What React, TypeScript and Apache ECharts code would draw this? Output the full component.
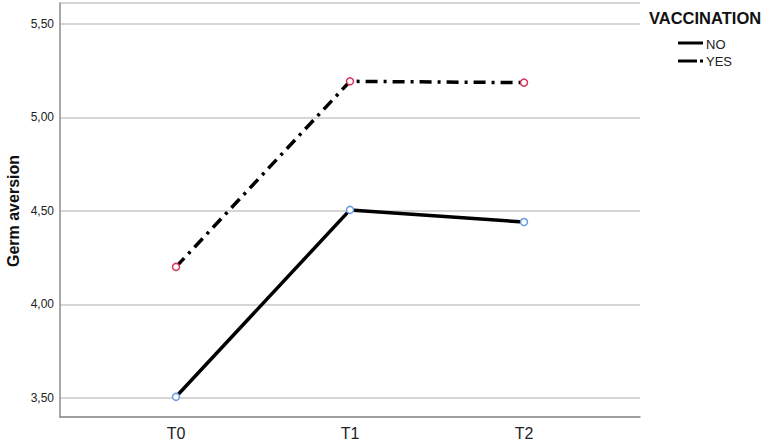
import React, { useEffect, useRef } from "react";
import * as echarts from "echarts";

const categories = ["T0", "T1", "T2"];
const yTicks = [3.5, 4.0, 4.5, 5.0, 5.5];
const seriesNames = ["NO", "YES"];
const noValues = [3.505, 4.505, 4.44];
const yesValues = [4.2, 5.193, 5.186];

export default function App() {
  const ref = useRef<HTMLDivElement>(null);
  useEffect(() => {
    if (!ref.current) return;
    const chart = echarts.init(ref.current, null, { renderer: "svg" });
    const font = "'Liberation Sans', Arial, sans-serif";
    chart.setOption({
      animation: false,
      backgroundColor: "#fff",
      grid: { left: 60, top: 3, width: 580, height: 414, containLabel: false },
      xAxis: {
        type: "value",
        min: -2 / 3,
        max: 8 / 3,
        axisLine: { show: true, onZero: false, lineStyle: { color: "#8c8c8c", width: 1.5 } },
        axisTick: { show: false },
        splitLine: { show: false },
        axisLabel: {
          customValues: [0, 1, 2],
          formatter: (v: number) => categories[Math.round(v)] ?? "",
          fontFamily: font,
          fontSize: 16,
          color: "#222",
          margin: 8,
        },
      },
      yAxis: {
        type: "value",
        min: 3.397,
        max: 5.612,
        axisLine: { show: true, onZero: false, lineStyle: { color: "#8c8c8c", width: 1.5 } },
        axisTick: { show: false },
        splitLine: { show: true, lineStyle: { color: "#c8c8c8", width: 1.5 } },
        axisLabel: {
          customValues: yTicks,
          formatter: (v: number) => v.toFixed(2).replace(".", ","),
          fontFamily: font,
          fontSize: 12,
          color: "#222",
          margin: 6,
        },
      },
      series: [
        {
          name: seriesNames[0],
          type: "line",
          data: noValues.map((v, i) => [i, v]),
          symbol: "circle",
          symbolSize: 7,
          lineStyle: { color: "#000", width: 3.5 },
          itemStyle: { color: "#fff", borderColor: "#6a9de0", borderWidth: 1.5 },
          z: 3,
        },
        {
          name: seriesNames[1],
          type: "line",
          data: yesValues.map((v, i) => [i, v]),
          symbol: "circle",
          symbolSize: 7,
          lineStyle: { color: "#000", width: 3.5, type: [12, 6, 3, 6] },
          itemStyle: { color: "#fff", borderColor: "#d8325a", borderWidth: 1.5 },
          z: 3,
        },
      ],
      graphic: [
        {
          type: "text",
          x: 13,
          y: 211,
          rotation: Math.PI / 2,
          style: {
            text: "Germ aversion",
            fontFamily: font,
            fontSize: 16,
            fontWeight: "bold",
            fill: "#111",
            align: "center",
            verticalAlign: "middle",
          },
        },
        {
          type: "text",
          x: 649,
          y: 18,
          style: {
            text: "VACCINATION",
            fontFamily: font,
            fontSize: 16.5,
            fontWeight: "bold",
            fill: "#111",
            align: "left",
            verticalAlign: "middle",
          },
        },
        {
          type: "line",
          shape: { x1: 678, y1: 43, x2: 703, y2: 43 },
          style: { stroke: "#000", lineWidth: 3 },
        },
        {
          type: "line",
          shape: { x1: 678, y1: 61, x2: 697, y2: 61 },
          style: { stroke: "#000", lineWidth: 3 },
        },
        {
          type: "line",
          shape: { x1: 700, y1: 61, x2: 703, y2: 61 },
          style: { stroke: "#000", lineWidth: 3 },
        },
        {
          type: "text",
          x: 706,
          y: 44,
          style: {
            text: seriesNames[0],
            fontFamily: font,
            fontSize: 13,
            fill: "#222",
            verticalAlign: "middle",
          },
        },
        {
          type: "text",
          x: 706,
          y: 61,
          style: {
            text: seriesNames[1],
            fontFamily: font,
            fontSize: 13,
            fill: "#222",
            verticalAlign: "middle",
          },
        },
      ],
    });
    return () => chart.dispose();
  }, []);
  return (
    <div
      ref={ref}
      style={{ position: "fixed", left: 0, top: 0, width: 765, height: 443 }}
    />
  );
}
